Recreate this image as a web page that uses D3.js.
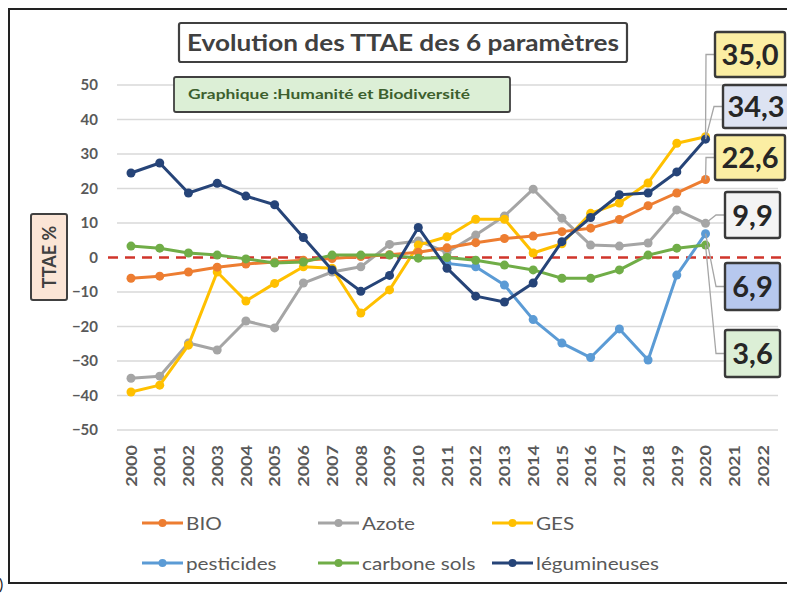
<!DOCTYPE html>
<html>
<head>
<meta charset="utf-8">
<script src="https://cdn.jsdelivr.net/npm/d3@7"></script>
<style>
  html, body { margin: 0; padding: 0; background: #fff; }
  svg { display: block; font-family: Lato, "Open Sans", "DejaVu Sans", sans-serif; }
</style>
</head>
<body>
<svg id="chart" width="787" height="595"></svg>
<script>
// ---- data ----
const years = d3.range(2000, 2023);
const yTicks = [50, 40, 30, 20, 10, 0, -10, -20, -30, -40, -50];

const bio = [-6, -5.4, -4.2, -2.8, -1.9, -1.3, -0.8, -0.3, 0.3, 0.8, 1.5, 2.8, 4.3, 5.5, 6.2, 7.5, 8.5, 11, 15, 18.7, 22.6];
const azote = [-35, -34.4, -24.8, -26.8, -18.4, -20.4, -7.4, -4.2, -2.7, 3.8, 4.8, 1.5, 6.5, 12, 19.8, 11.4, 3.6, 3.3, 4.2, 13.8, 9.9];
const ges = [-39, -37, -25.4, -4.2, -12.6, -7.5, -2.7, -3.1, -16.1, -9.4, 3.6, 6, 11.1, 11.1, 1.3, 4, 12.8, 15.8, 21.6, 33.1, 35.0];
const pesticides = [null, null, null, null, null, null, null, null, null, null, null, -1.7, -2.7, -8, -18, -24.8, -29, -20.7, -29.7, -5.1, 6.9];
const carbone = [3.3, 2.7, 1.3, 0.7, -0.4, -1.6, -1.3, 0.7, 0.7, 0.7, -0.2, 0, -0.8, -2.2, -3.6, -6, -6, -3.6, 0.7, 2.7, 3.6];
const legum = [24.5, 27.4, 18.7, 21.5, 17.8, 15.3, 5.8, -3.6, -9.8, -5.2, 8.7, -3.1, -11.2, -12.9, -7.4, 4.6, 11.6, 18.2, 18.7, 24.8, 34.3];

const seriesNames = ["BIO", "Azote", "GES", "pesticides", "carbone sols", "légumineuses"];
const seriesColors = ["#ed7d31", "#a5a5a5", "#ffc000", "#5b9bd5", "#70ad47", "#264478"];
const seriesValues = [bio, azote, ges, pesticides, carbone, legum];

const endLabels = ["35,0", "34,3", "22,6", "9,9", "6,9", "3,6"];
const endLabelSeries = [2, 5, 0, 1, 3, 4];
const endLabelFills = ["#fbeea3", "#dde3f2", "#fbeea3", "#f4f4f4", "#b7c8ee", "#dcefd6"];

const title = "Evolution des TTAE des 6 paramètres";
const subtitle = "Graphique :Humanité et Biodiversité";
const yLabel = "TTAE %";

// ---- helpers ----
function stretch(sel, f) {
  sel.each(function () {
    const L = this.getComputedTextLength();
    d3.select(this).attr("textLength", L * f).attr("lengthAdjust", "spacingAndGlyphs");
  });
}

// ---- layout ----
const svg = d3.select("#chart");
const x = d3.scaleLinear().domain([2000, 2022]).range([131, 763]);
const y = d3.scaleLinear().domain([-50, 50]).range([430, 85]);

// outer frame
svg.append("rect").attr("x", 9).attr("y", 9).attr("width", 790).attr("height", 574)
  .attr("fill", "none").attr("stroke", "#222").attr("stroke-width", 2);
svg.append("text").attr("x", -1).attr("y", 590).attr("font-size", 16).attr("fill", "#222").text(")");

// grid
const grid = svg.append("g");
grid.selectAll("line").data(yTicks.filter(d => d !== 0)).enter().append("line")
  .attr("x1", 117).attr("x2", 778)
  .attr("y1", d => y(d)).attr("y2", d => y(d))
  .attr("stroke", "#d9d9d9").attr("stroke-width", 1.3);

// y axis labels
const yAxis = d3.axisLeft(y).tickValues(yTicks).tickSize(0).tickPadding(0).tickFormat(d3.format("d"));
const yg = svg.append("g").attr("transform", "translate(98,0)").call(yAxis);
yg.select(".domain").remove();
yg.selectAll("text").attr("fill", "#595959").attr("font-size", 15).attr("font-weight", "bold")
  .attr("font-family", "Lato, sans-serif");

// x axis labels
const xAxis = d3.axisBottom(x).tickValues(years).tickSize(0).tickPadding(0).tickFormat(d3.format("d"));
const xg = svg.append("g").attr("transform", "translate(0,445)").call(xAxis);
xg.select(".domain").remove();
const xt = xg.selectAll(".tick text").attr("fill", "#595959").attr("font-size", 15).attr("font-weight", "bold")
  .attr("font-family", "Lato, sans-serif")
  .attr("transform", "rotate(-90)").attr("text-anchor", "end")
  .attr("x", 0).attr("y", 0).attr("dy", "0.35em");
stretch(xt, 1.2);

// zero dashed line
svg.append("line").attr("x1", 108).attr("x2", 787).attr("y1", y(0)).attr("y2", y(0))
  .attr("stroke", "#d0352b").attr("stroke-width", 2.5).attr("stroke-dasharray", "10,7");

// series lines
const line = d3.line().defined(d => d != null).x((d, i) => x(years[i])).y(d => y(d));
const drawOrder = [1, 2, 0, 3, 4, 5];
drawOrder.forEach(si => {
  const vals = seriesValues[si];
  const g = svg.append("g");
  g.append("path").datum(vals).attr("d", line).attr("fill", "none")
    .attr("stroke", seriesColors[si]).attr("stroke-width", 3).attr("stroke-linejoin", "round");
  g.selectAll("circle").data(vals.map((v, i) => ({v, i})).filter(d => d.v != null)).enter().append("circle")
    .attr("cx", d => x(years[d.i])).attr("cy", d => y(d.v)).attr("r", 4.5)
    .attr("fill", seriesColors[si]);
});

// end labels with leader lines
const boxes = [
  {x: 715, y: 32, w: 70, h: 45},
  {x: 723, y: 85, w: 66, h: 43},
  {x: 715, y: 135, w: 70, h: 45},
  {x: 725, y: 192, w: 55, h: 46},
  {x: 725, y: 263, w: 55, h: 47},
  {x: 725, y: 330, w: 55, h: 47}
];
endLabels.forEach((lab, k) => {
  const si = endLabelSeries[k];
  const vals = seriesValues[si];
  const px = x(2020), py = y(vals[20]);
  const b = boxes[k];
  const midY = b.y + b.h / 2;
  const elbowX = b.x - 9;
  svg.append("polyline")
    .attr("points", `${px},${py} ${elbowX},${midY} ${b.x},${midY}`)
    .attr("fill", "none").attr("stroke", "#a6a6a6").attr("stroke-width", 1.3);
  svg.append("rect").attr("x", b.x).attr("y", b.y).attr("width", b.w).attr("height", b.h)
    .attr("rx", 2).attr("fill", endLabelFills[k]).attr("stroke", "#3a3a3a").attr("stroke-width", 2.4);
  svg.append("text").attr("x", b.x + b.w / 2).attr("y", midY + 10.5).attr("text-anchor", "middle")
    .attr("font-size", 29).attr("font-weight", "bold").attr("fill", "#262626")
    .attr("font-family", "Lato, sans-serif").text(lab);
});

// title box
svg.append("rect").attr("x", 179).attr("y", 23).attr("width", 448).attr("height", 39)
  .attr("fill", "#fff").attr("stroke", "#404040").attr("stroke-width", 2.2).attr("rx", 2);
svg.append("text").attr("x", 403).attr("y", 51).attr("text-anchor", "middle")
  .attr("font-size", 23).attr("font-weight", "bold").attr("fill", "#404040")
  .attr("font-family", "Lato, sans-serif")
  .attr("textLength", 432).attr("lengthAdjust", "spacingAndGlyphs").text(title);

// subtitle box
svg.append("rect").attr("x", 174).attr("y", 77).attr("width", 336).attr("height", 35)
  .attr("fill", "#dcefd6").attr("stroke", "#404040").attr("stroke-width", 1.8).attr("rx", 2);
svg.append("text").attr("x", 188).attr("y", 99)
  .attr("font-size", 12.5).attr("font-weight", "bold").attr("fill", "#3d5f2e")
  .attr("font-family", "Lato, sans-serif")
  .attr("textLength", 282).attr("lengthAdjust", "spacingAndGlyphs").text(subtitle);

// y label box
svg.append("rect").attr("x", 31).attr("y", 214).attr("width", 36).attr("height", 86)
  .attr("fill", "#fbe5d6").attr("stroke", "#404040").attr("stroke-width", 2).attr("rx", 2);
svg.append("text").attr("transform", "translate(55.5,257) rotate(-90)").attr("text-anchor", "middle")
  .attr("font-size", 18).attr("font-weight", "bold").attr("fill", "#404040")
  .attr("font-family", "Lato, sans-serif").text(yLabel);

// legend
const legX = [142, 318, 492];
const legY = [523, 563];
seriesNames.forEach((name, i) => {
  const lx = legX[i % 3], ly = legY[Math.floor(i / 3)];
  const g = svg.append("g");
  g.append("line").attr("x1", lx).attr("x2", lx + 41).attr("y1", ly).attr("y2", ly)
    .attr("stroke", seriesColors[i]).attr("stroke-width", 3);
  g.append("circle").attr("cx", lx + 20.5).attr("cy", ly).attr("r", 4).attr("fill", seriesColors[i]);
  const t = g.append("text").attr("x", lx + 44).attr("y", ly + 6.5).attr("font-size", 18)
    .attr("fill", "#595959").attr("font-family", "Lato, sans-serif").text(name);
  stretch(t, 1.15);
});
</script>
</body>
</html>
